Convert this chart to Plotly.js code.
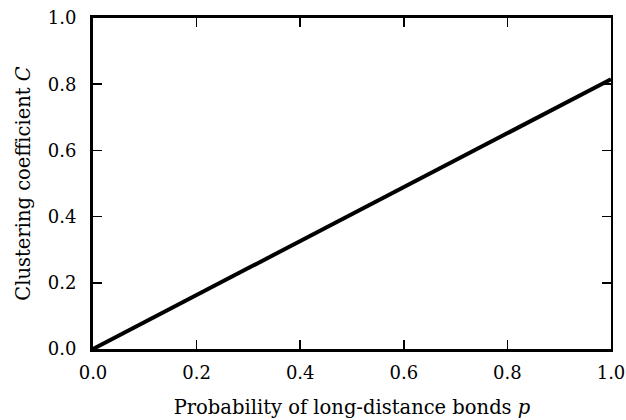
<!DOCTYPE html>
<html><head><meta charset="utf-8">
<script src="https://cdn.plot.ly/plotly-3.0.1.min.js"></script>
<style>body{margin:0;background:#fff}#c{width:626px;height:420px}</style>
</head><body><div id="c"></div>
<script>
const pValues = [0.0, 0.2, 0.4, 0.6, 0.8, 1.0];
const cValues = [0.0, 0.163, 0.326, 0.489, 0.652, 0.815];
const tickVals = [0, 0.2, 0.4, 0.6, 0.8, 1.0];
const tickText = ['0.0', '0.2', '0.4', '0.6', '0.8', '1.0'];

const tickFont = {family: 'DejaVu Serif', size: 18, color: '#000'};
const titleFont = {family: 'DejaVu Serif', size: 19.5, color: '#000'};
const trace = {x: pValues, y: cValues, mode: 'lines', line: {color: '#000', width: 4}, showlegend: false, hoverinfo: 'none'};
const trace2 = {x: [0, 1], y: [0, 0], yaxis: 'y2', mode: 'none', showlegend: false, hoverinfo: 'none'};

const layout = {
  width: 626, height: 420,
  margin: {l: 93, r: 15, t: 18, b: 71},
  paper_bgcolor: '#fff', plot_bgcolor: '#fff',
  font: tickFont,
  xaxis: {range: [0, 1], tickvals: tickVals, ticktext: tickText, ticks: 'inside', ticklen: 9, tickwidth: 1.5, tickcolor: '#000',
    showline: true, linewidth: 3, linecolor: '#000', mirror: 'ticks', showgrid: false, zeroline: false,
    ticklabelstandoff: 5,
    tickfont: tickFont, title: {text: 'Probability of long-distance bonds <i>p</i>', font: titleFont, standoff: 19}},
  yaxis: {range: [0, 1], tickvals: tickVals, ticktext: tickText, ticks: 'inside', ticklen: 9, tickwidth: 1.5, tickcolor: '#000',
    showline: true, linewidth: 3, linecolor: '#000', mirror: false, showgrid: false, zeroline: false,
    ticklabelstandoff: 10,
    tickfont: tickFont, title: {text: 'Clustering coefficient <i>C</i>', font: titleFont, standoff: 12}},
  yaxis2: {range: [0, 1], overlaying: 'y', side: 'right', tickvals: tickVals, showticklabels: false, ticks: 'inside', ticklen: 9, tickwidth: 1.5, tickcolor: '#000',
    showline: true, linewidth: 2, linecolor: '#000', showgrid: false, zeroline: false}
};
Plotly.newPlot('c', [trace, trace2], layout, {staticPlot: true, displayModeBar: false});
</script></body></html>
